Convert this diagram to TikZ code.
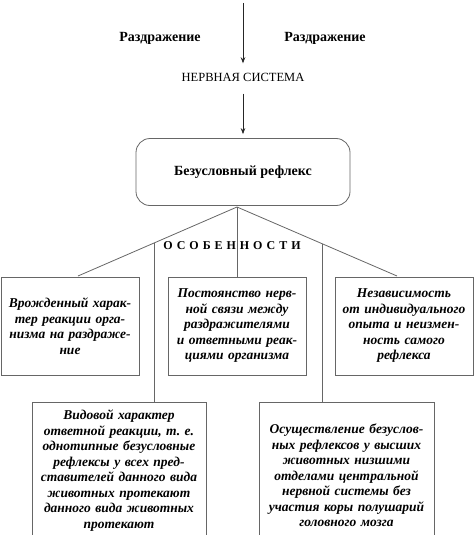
\documentclass[tikz,border=0pt]{standalone}
\usepackage{fontspec}
\setmainfont{Liberation Serif}
\usetikzlibrary{positioning,calc,arrows.meta}

\tikzset{
  line/.style={draw=black!60, line width=0.8pt},
  arr/.style={draw=black!85, line width=0.7pt, -{Stealth[length=6pt,width=4.5pt]}},
  head/.style={font=\bfseries\fontsize{14}{16}\selectfont},
  featbox/.style={line, fill=white, align=center, inner sep=3pt,
    font=\bfseries\itshape\fontsize{13.5}{15.5}\selectfont},
}

\begin{document}
\begin{tikzpicture}[x=1pt,y=-1pt]
\useasboundingbox (0,0) rectangle (474,535);
\clip (0,0) rectangle (474,535);

% top part
\coordinate (in) at (243,3);
\node[head] (irrL) at (160,38) {Раздражение};
\node[head] (irrR) at (325,38) {Раздражение};
\node[font=\fontsize{12.5}{15}\selectfont] (ns) at (243,77) {НЕРВНАЯ СИСТЕМА};
\node[line, rounded corners=14pt, minimum width=214pt, minimum height=67pt, head] (refl) at (243,172) {Безусловный рефлекс};

\draw[arr, shorten >=6pt] (in) -- (ns);
\draw[arr, shorten <=9pt, shorten >=4pt] (ns) -- (refl);

% features
\node[featbox, text width=132pt, minimum height=98pt] (f1) at (70,326)
  {Врожденный харак-\\тер реакции орга-\\низма на раздраже-\\ние};
\node[featbox, text width=132pt, minimum height=98pt] (f2) at (237,326)
  {Постоянство нерв-\\ной связи между\\раздражителями\\и ответными реак-\\циями организма};
\node[featbox, text width=132pt, minimum height=98pt] (f3) at (404,326)
  {Независимость\\от индивидуального\\опыта и неизмен-\\ность самого\\рефлекса};
\node[featbox, text width=168pt, minimum height=136pt, anchor=north] (f4) at (119,402)
  {Видовой характер\\ответной реакции, т.~е.\\однотипные безусловные\\рефлексы у всех пред-\\ставителей данного вида\\животных протекают\\данного вида животных\\протекают};
\node[featbox, text width=169pt, minimum height=146pt, anchor=north] (f5) at (346.5,402)
  {Осуществление безуслов-\\ных рефлексов у высших\\животных низшими\\отделами центральной\\нервной системы без\\участия коры полушарий\\головного мозга};

\coordinate (apex) at (237,207);
\coordinate (l) at (78,276);
\coordinate (r) at (397,276);
\coordinate (hangL) at ($(apex)!{83/159}!(l)$);
\coordinate (hangR) at ($(apex)!{85/160}!(r)$);

\draw[line] (l) -- (apex) -- (r);
\draw[line] (apex) -- (f2.north);
\draw[line] (hangL) -- (hangL |- f4.north);
\draw[line] (hangR) -- (hangR |- f5.north);

\node[font=\bfseries\fontsize{12}{14}\selectfont\addfontfeature{LetterSpace=33}] (feat) at (232,246) {ОСОБЕННОСТИ};
\end{tikzpicture}
\end{document}
